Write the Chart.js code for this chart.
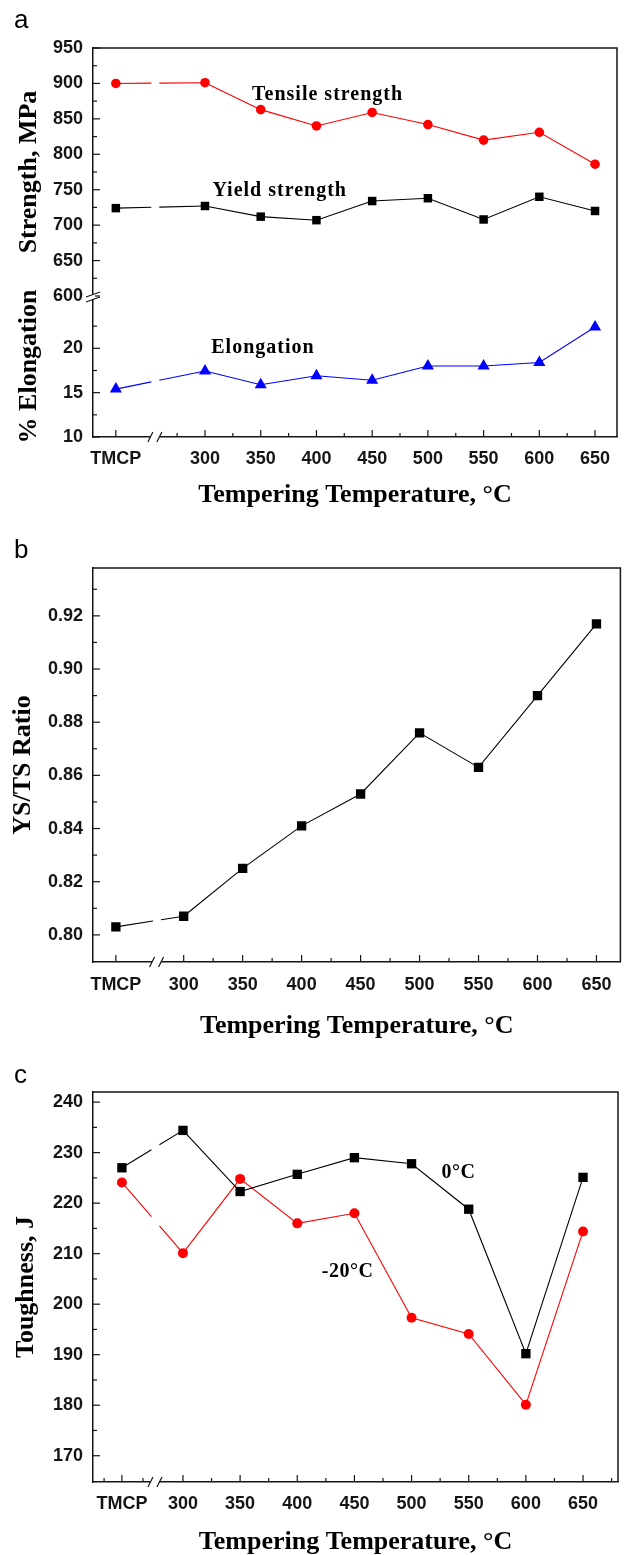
<!DOCTYPE html>
<html>
<head>
<meta charset="utf-8">
<script src="https://cdn.jsdelivr.net/npm/chart.js@4.4.1/dist/chart.umd.min.js"></script>
<style>
  body { margin: 0; background: #fff; }
  #wrap { position: relative; width: 627px; height: 1555px; }
  canvas { position: absolute; left: 0; }
  .tag { position: absolute; left: 14px; font: 26px 'Liberation Sans', Arial, sans-serif; line-height: 26px; color: #000; }
</style>
</head>
<body>
<div id="wrap">
  <canvas id="chartA" width="627" height="520" style="top:0"></canvas>
  <canvas id="chartB" width="627" height="522" style="top:520px"></canvas>
  <canvas id="chartC" width="627" height="513" style="top:1042px"></canvas>
  <div class="tag" style="top:6px">a</div>
  <div class="tag" style="top:536px">b</div>
  <div class="tag" style="top:1061px">c</div>
</div>
<script>
// tempering conditions (TMCP = as rolled, then tempering temperature in °C)
const temps = ['TMCP', '300', '350', '400', '450', '500', '550', '600', '650'];

// (a) strength (MPa) and elongation (%)
const tensile = [900, 901, 863, 840, 859, 842, 820, 831, 786];
const yieldStr = [724, 727, 712, 707, 734, 738, 708, 740, 720];
const elong = [15.4, 17.45, 15.9, 16.9, 16.4, 18.0, 18.0, 18.4, 22.4];

// (b) YS/TS ratio
const ratio = [0.803, 0.807, 0.825, 0.841, 0.853, 0.876, 0.863, 0.890, 0.917];

// (c) impact toughness (J)
const tough0 = [227.0, 234.4, 222.3, 225.7, 229.0, 227.8, 218.8, 190.2, 225.1];
const toughM20 = [224.1, 210.1, 224.8, 216.0, 218.0, 197.3, 194.1, 180.1, 214.4];

// tick labels
const strengthTicks = [600, 650, 700, 750, 800, 850, 900, 950];
const strengthMinor = [625, 675, 725, 775, 825, 875, 925];
const elongTicks = [10, 15, 20];
const elongMinor = [12.5, 17.5, 22.5];
const ratioTicks = [0.80, 0.82, 0.84, 0.86, 0.88, 0.90, 0.92];
const ratioMinor = [0.81, 0.83, 0.85, 0.87, 0.89, 0.91, 0.93];
const toughTicks = [170, 180, 190, 200, 210, 220, 230, 240];
const toughMinor = [175, 185, 195, 205, 215, 225, 235];

const SERIF = "'Liberation Serif', 'Times New Roman', serif";
const SANS = "'Liberation Sans', Arial, sans-serif";
const INK = '#151515';

function tickList(major, minor) {
  return major.map(v => ({ value: v }))
    .concat(minor.map(v => ({ value: v, minor: true })))
    .sort((p, q) => p.value - q.value);
}

// draws the box, inward ticks, axis breaks and the curve labels
const framePlugin = {
  id: 'frame',
  afterDraw(chart, args, o) {
    const { ctx, chartArea: a } = chart;
    ctx.save();
    ctx.strokeStyle = INK;
    ctx.lineWidth = 1.5;
    ctx.beginPath();
    ctx.moveTo(a.left, a.top);
    ctx.lineTo(a.right, a.top);
    ctx.lineTo(a.right, a.bottom);
    ctx.stroke();

    ctx.lineWidth = 1.2;
    Object.values(chart.scales).forEach(s => {
      s.ticks.forEach(t => {
        const len = t.minor ? 4 : 7;
        const p = s.getPixelForValue(t.value);
        ctx.beginPath();
        if (s.isHorizontal()) {
          ctx.moveTo(p, a.bottom); ctx.lineTo(p, a.bottom - len);
        } else {
          ctx.moveTo(a.left, p); ctx.lineTo(a.left + len, p);
        }
        ctx.stroke();
      });
    });

    // break on the x axis
    const bx = chart.scales.x.getPixelForValue(o.xBreak);
    ctx.fillStyle = '#fff';
    ctx.fillRect(bx - 4.5, a.bottom - 2, 9, 4);
    ctx.beginPath();
    ctx.moveTo(bx - 7, a.bottom + 5); ctx.lineTo(bx - 2, a.bottom - 5);
    ctx.moveTo(bx + 2, a.bottom + 5); ctx.lineTo(bx + 7, a.bottom - 5);
    ctx.stroke();

    // break on the y axis (panel a only)
    if (o.yBreak) {
      const yb = chart.scales[o.yBreak].bottom;
      ctx.fillRect(a.left - 2, yb - 2, 4, 5);
      ctx.beginPath();
      ctx.moveTo(a.left - 7, yb + 1); ctx.lineTo(a.left + 7, yb - 4);
      ctx.moveTo(a.left - 7, yb + 6); ctx.lineTo(a.left + 7, yb + 1);
      ctx.stroke();
    }

    (o.notes || []).forEach(n => {
      const px = chart.scales.x.getPixelForValue(n.x);
      const py = chart.scales[n.axis].getPixelForValue(n.y);
      ctx.font = n.font;
      ctx.letterSpacing = n.spacing || '0px';
      ctx.textAlign = 'center';
      ctx.textBaseline = 'middle';
      ctx.fillStyle = '#000';
      ctx.fillText(n.text, px, py);
    });
    ctx.restore();
  }
};

function yAxis(o) {
  return {
    type: 'linear', position: 'left', min: o.min, max: o.max,
    stack: o.stack, stackWeight: o.weight,
    afterBuildTicks: s => { s.ticks = tickList(o.major, o.minor); },
    afterFit: s => { s.width = 93; },
    grid: { display: false, drawTicks: false },
    border: { display: true, color: INK, width: 1.5 },
    ticks: {
      autoSkip: false, padding: 10, color: INK,
      font: { family: SANS, size: 18, weight: 'bold' },
      callback: (v, i, t) => t[i].minor ? '' : o.fmt(v)
    },
    title: {
      display: true, text: o.title, color: '#000',
      font: { family: SERIF, size: 26, weight: 'bold' },
      padding: { top: o.titlePad, bottom: 0 }
    }
  };
}

function xAxis(p) {
  const major = [p.tmcpAt].concat(temps.slice(1).map(Number));
  return {
    type: 'linear', position: 'bottom', min: p.xMin, max: p.xMax,
    afterBuildTicks: s => { s.ticks = tickList(major, p.xMinor); },
    afterFit: s => { s.height = p.xHeight; },
    grid: { display: false, drawTicks: false },
    border: { display: true, color: INK, width: 1.5 },
    ticks: {
      autoSkip: false, maxRotation: 0, padding: p.xPad, color: INK,
      font: { family: SANS, size: 18, weight: 'bold' },
      callback: (v, i, t) => t[i].minor ? '' : (v === p.tmcpAt ? 'TMCP' : String(v))
    },
    title: {
      display: true, text: 'Tempering Temperature, °C', color: '#000',
      font: { family: SERIF, size: 26, weight: 'bold' },
      padding: { top: 0, bottom: p.titlePad }
    }
  };
}

function makeSeries(p, label, vals, color, style, radius, axis) {
  const xs = temps.map(t => t === 'TMCP' ? p.tmcpAt : Number(t));
  return {
    label: label,
    data: vals.map((v, i) => ({ x: xs[i], y: v })),
    yAxisID: axis || 'y',
    borderColor: color, backgroundColor: color,
    pointBackgroundColor: color, pointBorderColor: color,
    pointStyle: style, pointRadius: radius, pointBorderWidth: 0,
    borderWidth: 1.1, tension: 0,
    segment: {
      // the TMCP -> 300 line is interrupted where the x axis is broken
      borderDash: c => {
        if (c.p0DataIndex !== 0) return [];
        const bx = c.chart.scales.x.getPixelForValue(p.xBreak);
        const p0 = c.p0, p1 = c.p1;
        const dx = p1.x - p0.x;
        const len = Math.hypot(dx, p1.y - p0.y);
        const s0 = (bx - 3.5 - p0.x) / dx * len;
        const s1 = (bx + 4.5 - p0.x) / dx * len;
        return [s0, s1 - s0, len];
      }
    }
  };
}

function makeChart(id, p, datasets, scales, extra) {
  return new Chart(document.getElementById(id), {
    type: 'line',
    data: { datasets: datasets },
    options: {
      responsive: false, animation: false, events: [],
      layout: { padding: { top: p.padTop, right: p.padRight, left: 0, bottom: 0 } },
      scales: Object.assign({ x: xAxis(p) }, scales),
      plugins: {
        legend: { display: false }, tooltip: { enabled: false },
        frame: Object.assign({ xBreak: p.xBreak }, extra)
      }
    },
    plugins: [framePlugin]
  });
}

// ---- panel a ----
const pA = { tmcpAt: 220, xMin: 199.5, xMax: 669.7, xBreak: 255,
  xMinor: [275, 325, 375, 425, 475, 525, 575, 625],
  padTop: 48, padRight: 10, xHeight: 83, xPad: 11, titlePad: 9 };
const notesA = [
  { text: 'Tensile strength', x: 410, y: 884, axis: 'yTop', font: `bold 20px ${SERIF}`, spacing: '1px' },
  { text: 'Yield strength', x: 367, y: 748, axis: 'yTop', font: `bold 20px ${SERIF}`, spacing: '1px' },
  { text: 'Elongation', x: 352, y: 20, axis: 'yBot', font: `bold 20px ${SERIF}`, spacing: '1px' }
];
// stacked axes are laid out bottom-first, so the lower (elongation) axis is listed first
makeChart('chartA', pA, [
  makeSeries(pA, 'Tensile strength', tensile, '#ff0000', 'circle', 4.8, 'yTop'),
  makeSeries(pA, 'Yield strength', yieldStr, '#000000', 'rect', 6, 'yTop'),
  makeSeries(pA, 'Elongation', elong, '#0000ff', 'triangle', 7, 'yBot')
], {
  yBot: yAxis({ min: 10, max: 25.9, stack: 'left', weight: 141, major: elongTicks, minor: elongMinor,
    fmt: v => String(v), title: '% Elongation', titlePad: 14 }),
  yTop: yAxis({ min: 600, max: 950, stack: 'left', weight: 248, major: strengthTicks, minor: strengthMinor,
    fmt: v => String(v), title: 'Strength, MPa', titlePad: 14 })
}, { yBreak: 'yTop', notes: notesA });

// ---- panel b ----
const pB = { tmcpAt: 242.5, xMin: 223.1, xMax: 670.3, xBreak: 277,
  xMinor: [325, 375, 425, 475, 525, 575, 625],
  padTop: 48, padRight: 5, xHeight: 80, xPad: 12, titlePad: 0 };
makeChart('chartB', pB, [
  makeSeries(pB, 'YS/TS', ratio, '#000000', 'rect', 6.6)
], {
  y: yAxis({ min: 0.7898, max: 0.938, major: ratioTicks, minor: ratioMinor,
    fmt: v => v.toFixed(2), title: 'YS/TS Ratio', titlePad: 8 })
}, {});

// ---- panel c ----
const pC = { tmcpAt: 246.6, xMin: 221.3, xMax: 680.6, xBreak: 275.5,
  xMinor: [231, 265, 325, 375, 425, 475, 525, 575, 625, 675],
  padTop: 50, padRight: 9, xHeight: 73, xPad: 11, titlePad: -3 };
const notesC = [
  { text: '0°C', x: 541, y: 226, axis: 'y', font: `bold 20px ${SERIF}`, spacing: '0.5px' },
  { text: '-20°C', x: 444, y: 206.4, axis: 'y', font: `bold 20px ${SERIF}`, spacing: '0.5px' }
];
makeChart('chartC', pC, [
  makeSeries(pC, '0°C', tough0, '#000000', 'rect', 6.6),
  makeSeries(pC, '-20°C', toughM20, '#ff0000', 'circle', 5)
], {
  y: yAxis({ min: 164.8, max: 242, major: toughTicks, minor: toughMinor,
    fmt: v => String(v), title: 'Toughness, J', titlePad: 11 })
}, { notes: notesC });
</script>
</body>
</html>
